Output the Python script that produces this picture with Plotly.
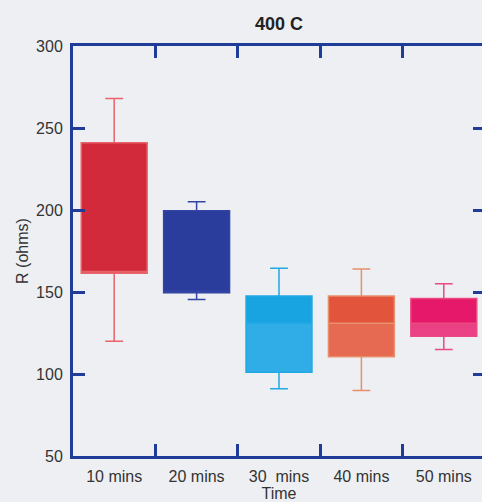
import plotly.graph_objects as go

# Data
categories = ["10 mins", "20 mins", "30\u00a0 mins", "40 mins", "50 mins"]
lower_whisker = [120, 145.5, 91, 90, 115]
q1 = [161.5, 149.5, 101, 110.5, 123]
median = [162.5, 150.5, 131, 131, 131]
q3 = [241, 199.5, 147.5, 147.5, 146]
upper_whisker = [268, 205, 164.5, 164, 155]

upper_colors = ["#d22a3a", "#2a3c9c", "#18a4e0", "#e2553c", "#e6186a"]
lower_colors = ["#e04a56", "#3a4ca6", "#30ace6", "#e66a52", "#ea4084"]
whisker_colors = ["#e8646a", "#3444a4", "#22a8e4", "#e8906e", "#ea4a80"]

AXIS = "#1e3c98"
BG = "#eeeff3"

fig = go.Figure()

# lower half of each box (Q1 -> median)
fig.add_trace(go.Bar(
    x=categories,
    base=q1,
    y=[median[i] - q1[i] for i in range(len(categories))],
    width=0.8,
    marker=dict(color=lower_colors, line=dict(width=0)),
    showlegend=False, hoverinfo="skip",
))
# upper half of each box (median -> Q3)
fig.add_trace(go.Bar(
    x=categories,
    base=median,
    y=[q3[i] - median[i] for i in range(len(categories))],
    width=0.8,
    marker=dict(color=upper_colors, line=dict(width=0)),
    showlegend=False, hoverinfo="skip",
))

# whiskers and outlines
for i, c in enumerate(categories):
    fig.add_trace(go.Box(
        x=[c], q1=[q1[i]], median=[median[i]], q3=[q3[i]],
        lowerfence=[lower_whisker[i]], upperfence=[upper_whisker[i]],
        fillcolor="rgba(0,0,0,0)",
        line=dict(color=whisker_colors[i], width=1.5),
        whiskerwidth=0.27, width=0.8, showlegend=False,
        boxpoints=False, hoverinfo="skip",
    ))

font = "Liberation Sans, Arial, sans-serif"

fig.update_layout(
    width=488, height=502,
    margin=dict(l=73, r=3, t=46, b=46, autoexpand=False),
    paper_bgcolor=BG, plot_bgcolor=BG,
    boxmode="overlay", barmode="overlay",
    font=dict(family=font, size=16, color="#333333"),
    title=dict(text="<b>400 C</b>", x=0.5, xref="paper", xanchor="center",
               y=1 - 24 / 502, yanchor="middle",
               font=dict(size=18, color="#222222", family=font)),
    xaxis=dict(
        type="category", range=[-0.5, 4.5], tickson="boundaries",
        ticks="inside", ticklen=12, tickwidth=3, tickcolor=AXIS,
        showline=True, linewidth=3, linecolor=AXIS, mirror="ticks",
        showgrid=False, zeroline=False, ticklabelstandoff=4,
        title=dict(text="Time", standoff=0, font=dict(size=16)),
        automargin=False,
    ),
    yaxis=dict(
        range=[50, 300], dtick=50, tick0=50,
        ticks="inside", ticklen=12, tickwidth=3, tickcolor=AXIS,
        showline=True, linewidth=3, linecolor=AXIS, mirror="ticks",
        showgrid=False, zeroline=False, ticklabelstandoff=4,
        title=dict(text="R (ohms)", standoff=4, font=dict(size=16)),
        automargin=False,
    ),
)

fig.write_html("out.html", post_script="document.body.style.overflow='hidden';document.body.style.margin='0';")
